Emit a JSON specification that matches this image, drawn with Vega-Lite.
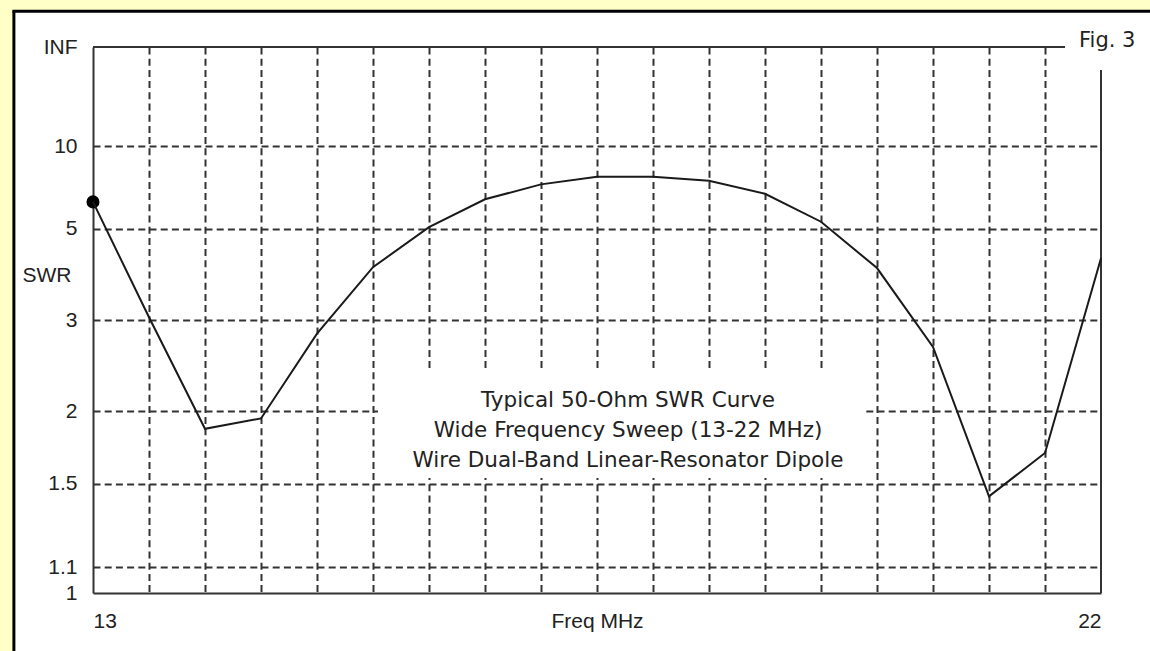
{
  "$schema": "https://vega.github.io/schema/vega-lite/v6.json",
  "autosize": {"type": "none"},
  "padding": {"left": 93, "top": 47, "right": 49, "bottom": 58},
  "width": 1008,
  "height": 546,
  "background": "#ffffff",
  "config": {"view": {"stroke": null}},
  "data": {
    "values": [
      {"freq": 13, "swr": 6.05},
      {"freq": 13.5, "swr": 3.04},
      {"freq": 14, "swr": 1.86},
      {"freq": 14.5, "swr": 1.94},
      {"freq": 15, "swr": 2.81},
      {"freq": 15.5, "swr": 3.96},
      {"freq": 16, "swr": 5.06},
      {"freq": 16.5, "swr": 6.17},
      {"freq": 17, "swr": 6.95},
      {"freq": 17.5, "swr": 7.42},
      {"freq": 18, "swr": 7.42},
      {"freq": 18.5, "swr": 7.17},
      {"freq": 19, "swr": 6.44},
      {"freq": 19.5, "swr": 5.25},
      {"freq": 20, "swr": 3.94},
      {"freq": 20.5, "swr": 2.64},
      {"freq": 21, "swr": 1.43},
      {"freq": 21.5, "swr": 1.69},
      {"freq": 22, "swr": 4.17}
    ]
  },
  "transform": [{"calculate": "(datum.swr - 1) / (datum.swr + 1)", "as": "rho"}],
  "layer": [
    {
      "data": {"values": [{}]},
      "mark": {"type": "rect", "fill": "#ffffc8"},
      "encoding": {
        "x": {"datum": 11, "type": "quantitative", "title": "Freq MHz"},
        "x2": {"datum": 12.2937},
        "y": {"datum": -0.3, "type": "quantitative", "title": "SWR"},
        "y2": {"datum": 1.3}
      }
    },
    {
      "data": {"values": [{}]},
      "mark": {"type": "rect", "fill": "#ffffc8"},
      "encoding": {
        "x": {"datum": 11, "type": "quantitative", "title": "Freq MHz"},
        "x2": {"datum": 23.5},
        "y": {"datum": 1.0654, "type": "quantitative", "title": "SWR"},
        "y2": {"datum": 1.3}
      }
    },
    {
      "data": {"values": [{}]},
      "mark": {"type": "rule", "color": "#000000", "strokeWidth": 3},
      "encoding": {
        "x": {"datum": 12.2937, "type": "quantitative", "title": "Freq MHz"},
        "y": {"datum": -0.4, "type": "quantitative", "title": "SWR"},
        "y2": {"datum": 1.0654}
      }
    },
    {
      "data": {"values": [{}]},
      "mark": {"type": "rule", "color": "#000000", "strokeWidth": 3},
      "encoding": {
        "x": {"datum": 12.28, "type": "quantitative", "title": "Freq MHz"},
        "x2": {"datum": 23.5},
        "y": {"datum": 1.0654, "type": "quantitative", "title": "SWR"}
      }
    },
    {
      "data": {"values": [{}]},
      "mark": {"type": "rect", "fill": "#ffffff"},
      "encoding": {
        "x": {"datum": 15.5446, "type": "quantitative", "title": "Freq MHz"},
        "x2": {"datum": 19.902},
        "y": {"datum": 0.2106, "type": "quantitative", "title": "SWR"},
        "y2": {"datum": 0.4048}
      }
    },
    {
      "data": {"values": [{}]},
      "mark": {
        "type": "text",
        "font": "DejaVu Sans",
        "fontSize": 21.5,
        "lineHeight": 30,
        "align": "center",
        "baseline": "alphabetic",
        "color": "#222222",
        "text": ["Typical 50-Ohm SWR Curve", "Wide Frequency Sweep (13-22 MHz)", "Wire Dual-Band Linear-Resonator Dipole"]
      },
      "encoding": {
        "x": {"datum": 17.777, "type": "quantitative", "title": "Freq MHz"},
        "y": {"datum": 0.3407, "type": "quantitative", "title": "SWR"}
      }
    },
    {
      "data": {"values": [{}]},
      "mark": {"type": "rule", "color": "#333333", "strokeWidth": 2},
      "encoding": {
        "x": {"datum": 13, "type": "quantitative", "title": "Freq MHz"},
        "x2": {"datum": 21.679},
        "y": {"datum": 1, "type": "quantitative", "title": "SWR"}
      }
    },
    {
      "data": {"values": [{}]},
      "mark": {"type": "rule", "color": "#333333", "strokeWidth": 2},
      "encoding": {
        "x": {"datum": 22, "type": "quantitative", "title": "Freq MHz"},
        "y": {"datum": 0, "type": "quantitative", "title": "SWR"},
        "y2": {"datum": 0.958}
      }
    },
    {
      "data": {"values": [{}]},
      "mark": {
        "type": "text",
        "font": "DejaVu Sans",
        "fontSize": 21,
        "align": "left",
        "baseline": "alphabetic",
        "color": "#222222",
        "text": "Fig. 3"
      },
      "encoding": {
        "x": {"datum": 21.8036, "type": "quantitative", "title": "Freq MHz"},
        "y": {"datum": 1, "type": "quantitative", "title": "SWR"}
      }
    },
    {
      "transform": [{"filter": "datum.freq == 13"}],
      "mark": {"type": "point", "filled": true, "color": "#000000", "size": 170, "opacity": 1},
      "encoding": {
        "x": {"field": "freq", "type": "quantitative", "title": "Freq MHz"},
        "y": {"field": "rho", "type": "quantitative", "title": "SWR"}
      }
    },
    {
      "mark": {"type": "line", "color": "#1a1a1a", "strokeWidth": 2},
      "encoding": {
        "x": {
          "field": "freq",
          "type": "quantitative",
          "scale": {"domain": [13, 22], "nice": false, "zero": false},
          "axis": {
            "values": [13, 13.5, 14, 14.5, 15, 15.5, 16, 16.5, 17, 17.5, 18, 18.5, 19, 19.5, 20, 20.5, 21, 21.5, 22],
            "labelExpr": "datum.value == 13 ? '13' : datum.value == 22 ? '22' : ''",
            "labelFlush": true,
            "labelOverlap": false,
            "ticks": false,
            "labelPadding": 17,
            "labelBaseline": "top",
            "labelFont": "Liberation Sans",
            "labelFontSize": 21,
            "labelColor": "#222222",
            "domainColor": "#333333",
            "domainWidth": 2,
            "grid": true,
            "gridColor": "#333333",
            "gridWidth": 2,
            "gridDash": [7, 4.2],
            "gridOpacity": {"condition": {"test": "datum.value <= 13 || datum.value >= 22", "value": 0}, "value": 1},
            "title": "Freq MHz",
            "titleY": 17,
            "titleBaseline": "top",
            "titleFont": "Liberation Sans",
            "titleFontSize": 21,
            "titleFontWeight": "normal",
            "titleColor": "#222222"
          }
        },
        "y": {
          "field": "rho",
          "type": "quantitative",
          "scale": {"domain": [0, 1], "nice": false, "zero": false},
          "axis": {
            "values": [0, 0.047619, 0.2, 0.3333333, 0.5, 0.6666667, 0.8181818, 1],
            "labelExpr": "datum.value >= 0.999 ? 'INF' : format((1 + datum.value) / (1 - datum.value), '.2~f')",
            "labelOverlap": false,
            "ticks": false,
            "labelPadding": 16,
            "labelBaseline": "middle",
            "labelFont": "Liberation Sans",
            "labelFontSize": 21,
            "labelColor": "#222222",
            "domainColor": "#333333",
            "domainWidth": 2,
            "grid": true,
            "gridColor": "#333333",
            "gridWidth": 2,
            "gridDash": [7, 4.2],
            "gridOpacity": {"condition": {"test": "datum.value <= 0 || datum.value >= 1", "value": 0}, "value": 1},
            "title": "SWR",
            "titleAngle": 0,
            "titleX": -22,
            "titleY": 228.5,
            "titleAlign": "right",
            "titleBaseline": "middle",
            "titleFont": "Liberation Sans",
            "titleFontSize": 21,
            "titleFontWeight": "normal",
            "titleColor": "#222222"
          }
        }
      }
    }
  ]
}
